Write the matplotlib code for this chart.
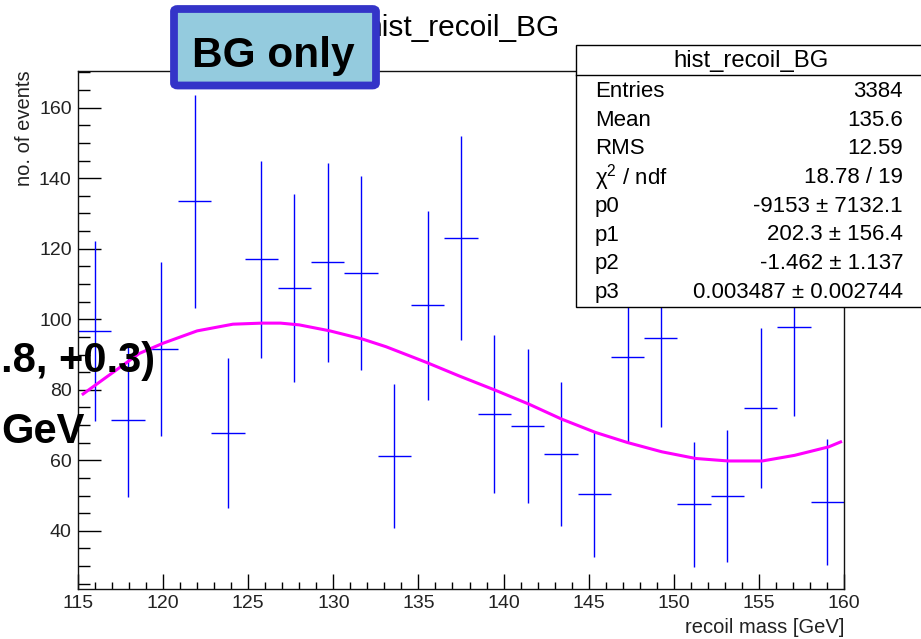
import matplotlib
matplotlib.use('Agg')
import matplotlib.pyplot as plt
import numpy as np
from matplotlib.patches import Rectangle, FancyBboxPatch
from matplotlib.lines import Line2D
from matplotlib.ticker import MultipleLocator

plt.rcParams['font.family'] = ['Liberation Sans', 'DejaVu Sans']
plt.rcParams['mathtext.fontset'] = 'custom'
plt.rcParams['mathtext.rm'] = 'Liberation Sans'
plt.rcParams['mathtext.it'] = 'Liberation Sans:italic'

W, H = 921, 639

# ---- data ----
bin_lo, bin_hi, n_bins = 115.0, 160.0, 23
counts = [96.7, 71.4, 91.6, 133.5, 67.7, 117.0, 108.8, 116.1, 113.1, 61.2, 104.0, 123.0,
          73.1, 69.7, 61.8, 50.3, 89.2, 94.8, 47.5, 49.9, 74.8, 97.9, 48.2]
errors = [25.5, 21.8, 24.6, 30.2, 21.2, 27.9, 26.6, 28.1, 27.4, 20.3, 26.8, 28.9,
          22.4, 21.9, 20.5, 17.7, 24.0, 25.3, 17.8, 18.7, 22.7, 25.3, 17.9]

fit_x = [115.3, 116.3, 118.6, 120.0, 122.0, 124.1, 125.8, 126.9, 128.0, 129.8, 131.7, 133.1,
         135.5, 137.4, 139.5, 141.5, 143.4, 145.4, 147.3, 149.3, 151.3, 153.2, 155.2, 157.1,
         159.1, 159.8]
fit_y = [78.8, 82.3, 90.3, 93.2, 96.7, 98.6, 98.9, 98.9, 98.4, 96.7, 94.4, 92.2,
         87.7, 83.9, 79.9, 75.9, 71.7, 67.9, 65.0, 62.4, 60.5, 59.8, 59.8, 61.4,
         63.8, 65.2]

x_ticks = [115, 120, 125, 130, 135, 140, 145, 150, 155, 160]
y_ticks = [40, 60, 80, 100, 120, 140, 160]

title_text = "hist_recoil_BG"
x_label = "recoil mass [GeV]"
y_label = "no. of events"
stat_title = "hist_recoil_BG"
stat_labels = ["Entries", "Mean", "RMS", "χ$^{2}$ / ndf", "p0", "p1", "p2", "p3"]
stat_values = ["3384", "135.6", "12.59", "18.78 / 19", "-9153 ± 7132.1",
               "202.3 ± 156.4", "-1.462 ± 1.137", "0.003487 ± 0.002744"]
box_label = "BG only"
overlay_1 = ".8, +0.3)"
overlay_2 = "GeV"


def fx(x):
    return x / W


def fy(y):
    return 1 - y / H


fig = plt.figure(figsize=(W / 100, H / 100), dpi=100)
ax = fig.add_axes([fx(78), fy(589.3), (844 - 78) / W, (589.3 - 70.7) / H])

edges = np.linspace(bin_lo, bin_hi, n_bins + 1)
centers = 0.5 * (edges[:-1] + edges[1:])
half = 0.5 * np.diff(edges)
ax.errorbar(centers, counts, xerr=half, yerr=errors, fmt='none', ecolor='#0000ff',
            elinewidth=1.0, capsize=0, zorder=2)
ax.plot(fit_x, fit_y, color='#ff00ff', lw=2.2, zorder=3, solid_joinstyle='round')

ax.set_xlim(115, 160)
ax.set_ylim(23.4, 170.5)
ax.set_xticks(x_ticks)
ax.set_yticks(y_ticks)
ax.xaxis.set_minor_locator(MultipleLocator(1))
ax.yaxis.set_minor_locator(MultipleLocator(5))
ax.tick_params(axis='x', which='major', direction='in', length=10.8, width=1.0,
               labelsize=14, pad=4, top=False, labelcolor='#222222')
ax.tick_params(axis='x', which='minor', direction='in', length=5.0, width=1.0, top=False)
ax.tick_params(axis='y', which='major', direction='in', length=16.5, width=1.0,
               labelsize=14, pad=4.5, right=False, labelcolor='#222222')
ax.tick_params(axis='y', which='minor', direction='in', length=8.6, width=1.0, right=False)
for s in ax.spines.values():
    s.set_linewidth(1.0)
    s.set_color('#111111')

# axis titles
fig.text(fx(25), fy(70), y_label, rotation=90, ha='center', va='top', fontsize=14.5,
         color='#222222')
fig.text(fx(844), fy(633), x_label, ha='right', va='baseline', fontsize=14.5,
         color='#222222')

# histogram title (partly hidden under the label box)
fig.text(fx(560), fy(36), title_text, ha='right', va='baseline', fontsize=21.5, zorder=3)

# stats box
stat_box = Rectangle((fx(576), fy(307)), (930 - 576) / W, (307 - 45) / H,
                     transform=fig.transFigure, facecolor='white', edgecolor='black',
                     lw=1.0, zorder=5)
fig.add_artist(stat_box)
fig.add_artist(Line2D([fx(576), fx(930)], [fy(75), fy(75)], transform=fig.transFigure,
                      color='black', lw=1.0, zorder=6))
fig.text(fx(751), fy(61), stat_title, ha='center', va='center', fontsize=17.2, zorder=7)
for i, (lab, val) in enumerate(zip(stat_labels, stat_values)):
    yc = 91.5 + i * 28.7
    fig.text(fx(595), fy(yc), lab, ha='left', va='center', fontsize=16, zorder=7)
    fig.text(fx(903), fy(yc), val, ha='right', va='center', fontsize=16, zorder=7)

# "BG only" label box
bg_box = FancyBboxPatch((fx(174), fy(85.5)), (376 - 174) / W, (85.5 - 9) / H,
                        boxstyle='round,pad=0,rounding_size=0.004',
                        transform=fig.transFigure, facecolor='#94cbde',
                        edgecolor='#3434c8', lw=5.6, zorder=10)
fig.add_artist(bg_box)
fig.text(fx(273), fy(66.5), box_label, ha='center', va='baseline', fontsize=30.5,
         fontweight='bold', zorder=11)

# overlaid text cut at the left edge
fig.text(fx(1), fy(372), overlay_1, ha='left', va='baseline', fontsize=30,
         fontweight='bold', zorder=12)
fig.text(fx(1), fy(443), overlay_2, ha='left', va='baseline', fontsize=30,
         fontweight='bold', zorder=12)

fig.savefig('out.png', dpi=100)
